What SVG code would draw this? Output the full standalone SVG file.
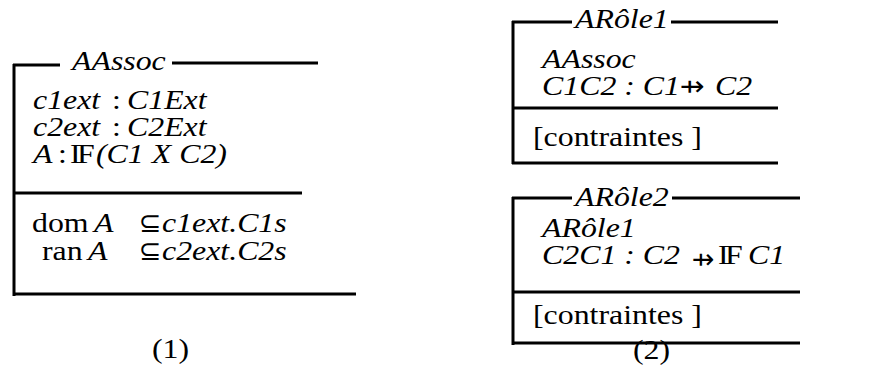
<svg xmlns="http://www.w3.org/2000/svg" width="877" height="385" viewBox="0 0 877 385">
<style>
  .ln { stroke: #000; stroke-width: 3; fill: none; }
  text { font-family: "Liberation Serif", "Times New Roman", serif; font-size: 27px; fill: #000; }
  .it { font-style: italic; }
  .sym { font-family: "DejaVu Sans", "Liberation Serif", sans-serif; }
</style>
<rect width="877" height="385" fill="#fff"/>
<g id="box-aassoc">
  <path class="ln" d="M14 64 V296 M13 65 H60 M172 63 H318 M13 193 H302 M13 294 H356"/>
  <text class="it" transform="translate(72,70) scale(1.18,1)">AAssoc</text>
  <text class="it" transform="translate(33,109) scale(1.18,1)">c1ext</text>
  <text transform="translate(112,109) scale(1.18,1)">:</text>
  <text class="it" transform="translate(127,109) scale(1.18,1)">C1Ext</text>
  <text class="it" transform="translate(33,136) scale(1.18,1)">c2ext</text>
  <text transform="translate(112,136) scale(1.18,1)">:</text>
  <text class="it" transform="translate(127,136) scale(1.18,1)">C2Ext</text>
  <text class="it" transform="translate(33,163) scale(1.18,1)">A</text>
  <text transform="translate(58,163) scale(1.18,1)">:</text>
  <text transform="translate(70,163) scale(1.18,1)" letter-spacing="-3">IF</text>
  <text class="it" transform="translate(96,163) scale(1.18,1)">(C1 X C2)</text>
  <text transform="translate(32,232) scale(1.18,1)">dom</text>
  <text class="it" transform="translate(94,232) scale(1.18,1)">A</text>
  <text class="sym" transform="translate(139,232)" font-size="21">⊆</text>
  <text class="it" transform="translate(162,232) scale(1.18,1)">c1ext.C1s</text>
  <text transform="translate(42,260) scale(1.18,1)">ran</text>
  <text class="it" transform="translate(88,260) scale(1.18,1)">A</text>
  <text class="sym" transform="translate(139,260)" font-size="21">⊆</text>
  <text class="it" transform="translate(162,260) scale(1.18,1)">c2ext.C2s</text>
  <text transform="translate(152,358) scale(1.18,1)">(1)</text>
</g>
<g id="box-arole1">
  <path class="ln" d="M513 21 V164 M512 22 H572 M671 22 H778 M512 108 H778 M512 163 H778"/>
  <text class="it" transform="translate(575,28) scale(1.18,1)">ARôle1</text>
  <text class="it" transform="translate(542,68) scale(1.18,1)">AAssoc</text>
  <text class="it" transform="translate(542,95) scale(1.18,1)">C1C2 : C1</text>
  <text class="sym" transform="translate(680,95) scale(1.1,1)" font-size="20">⇸</text>
  <text class="it" transform="translate(715,95) scale(1.18,1)">C2</text>
  <text transform="translate(533,146) scale(1.18,1)">[contraintes ]</text>
</g>
<g id="box-arole2">
  <path class="ln" d="M513 197 V345 M512 198 H572 M672 198 H800 M512 292 H800 M512 343 H800"/>
  <text class="it" transform="translate(575,206) scale(1.18,1)">ARôle2</text>
  <text class="it" transform="translate(542,237) scale(1.18,1)">ARôle1</text>
  <text class="it" transform="translate(542,264) scale(1.18,1)">C2C1 : C2</text>
  <text class="sym" transform="translate(692,268)" font-size="15">⇸</text>
  <text transform="translate(718,264) scale(1.18,1)" letter-spacing="-3">IF</text>
  <text class="it" transform="translate(748,264) scale(1.18,1)">C1</text>
  <text transform="translate(533,324) scale(1.18,1)">[contraintes ]</text>
  <text transform="translate(633,359) scale(1.18,1)">(2)</text>
</g>
<g id="connectors"></g>
</svg>
